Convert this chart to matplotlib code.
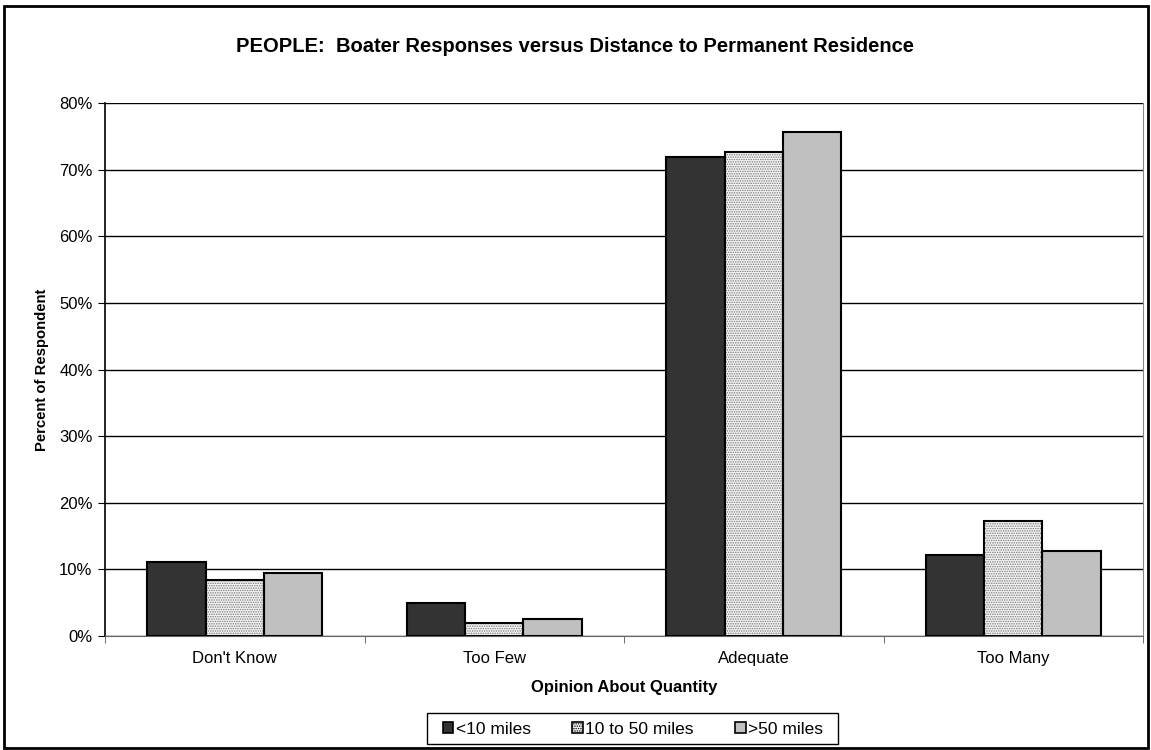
import matplotlib
import numpy as np

matplotlib.use("Agg")
import matplotlib.pyplot as plt
from matplotlib.patches import Patch, Rectangle
from matplotlib.ticker import FuncFormatter, MultipleLocator

categories = ["Don't Know", "Too Few", "Adequate", "Too Many"]
series_names = ["<10 miles", "10 to 50 miles", ">50 miles"]
under_10 = [11.1, 5.0, 71.9, 12.2]
from_10_to_50 = [8.4, 1.9, 72.7, 17.3]
over_50 = [9.5, 2.5, 75.7, 12.7]

plt.rcParams["font.family"] = ["Liberation Sans", "DejaVu Sans"]
plt.rcParams["hatch.linewidth"] = 0.7

W, H = 1151, 750
fig = plt.figure(figsize=(W / 100, H / 100), dpi=100)
ax = fig.add_axes([105 / W, 1 - 636 / H, 1038 / W, 533 / H])

x = np.arange(len(categories))
width = 0.225
offsets = [-width, 0, width]

ax.bar(x + offsets[0], under_10, width, color="#333333", edgecolor="black", linewidth=1.5, zorder=3)
# dotted series: hatch layer first, then the black outline
ax.bar(x + offsets[1], from_10_to_50, width, color="#f4f4f4", edgecolor="#777777",
       hatch=".......", linewidth=0, zorder=3)
ax.bar(x + offsets[1], from_10_to_50, width, fill=False, edgecolor="black", linewidth=1.5, zorder=4)
ax.bar(x + offsets[2], over_50, width, color="#c0c0c0", edgecolor="black", linewidth=1.5, zorder=3)

ax.set_xlim(-0.5, len(categories) - 0.5)
ax.set_ylim(0, 80)
ax.yaxis.set_major_locator(MultipleLocator(10))
ax.yaxis.set_major_formatter(FuncFormatter(lambda v, _: f"{v:.0f}%"))
ax.set_xticks(x, categories)
ax.set_xticks(np.arange(-0.5, len(categories)), minor=True)
ax.tick_params(axis="x", which="major", length=0, pad=11, labelsize=12)
ax.tick_params(axis="x", which="minor", length=5, direction="out", color="#555555")
ax.tick_params(axis="y", length=5, direction="out", labelsize=12, pad=4)
ax.grid(axis="y", color="black", linewidth=1, zorder=0)

ax.spines["top"].set_visible(False)
ax.spines["right"].set_color("#888888")
ax.spines["left"].set_linewidth(1.2)
ax.spines["bottom"].set_color("#666666")

ax.set_xlabel("Opinion About Quantity", fontsize=12, fontweight="bold", labelpad=10)
ax.set_ylabel("Percent of Respondent", fontsize=10.7, fontweight="bold", labelpad=7)
fig.text(0.5, 1 - 47 / H, "PEOPLE:  Boater Responses versus Distance to Permanent Residence",
         ha="center", va="center", fontsize=14.5, fontweight="bold")

handles = [
    Patch(facecolor="#333333", edgecolor="black", linewidth=1.2),
    Patch(facecolor="#f4f4f4", edgecolor="black", hatch=".......", linewidth=1.2),
    Patch(facecolor="#c0c0c0", edgecolor="black", linewidth=1.2),
]
fig.legend(handles, series_names, loc="center", bbox_to_anchor=(633 / W, 1 - 729 / H),
           ncols=3, fontsize=12.5, frameon=False, handlelength=0.6, handleheight=0.6,
           handletextpad=0.15, columnspacing=2.4, borderpad=0, borderaxespad=0)
fig.patches.append(Rectangle((427 / W, 1 - 744 / H), 411 / W, 31 / H, transform=fig.transFigure,
                             fill=False, edgecolor="black", linewidth=1))

fig.patches.append(Rectangle((4 / W, 2 / H), 1144 / W, 742 / H, transform=fig.transFigure,
                             fill=False, edgecolor="black", linewidth=2))

fig.savefig("out.png", dpi=100)
